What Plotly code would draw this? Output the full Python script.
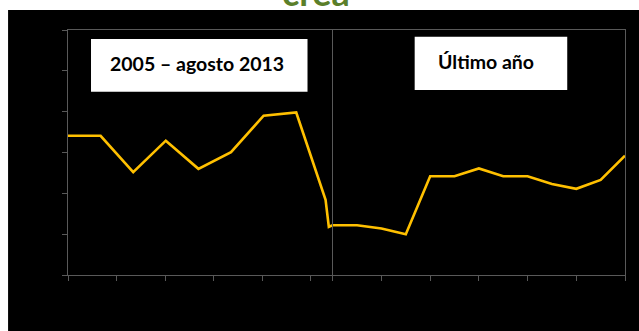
import plotly.graph_objects as go

# left panel: 2005 - agosto 2013
hist_x = [0, 1, 2, 3, 4, 5, 6, 7, 7.9, 8.0, 8.12]
hist_y = [3.41, 3.41, 2.52, 3.29, 2.60, 3.01, 3.90, 3.98, 1.84, 1.18, 1.22]

# right panel: ultimo año (13 meses)
year_x = [0, 1, 2, 3, 4, 5, 6, 7, 8, 9, 10, 11, 12]
year_y = [1.22, 1.22, 1.14, 1.00, 2.42, 2.42, 2.61, 2.42, 2.42, 2.23, 2.11, 2.33, 2.92]

label_left = "2005 – agosto 2013"
label_right = "Último año"

gold = "#FFC000"
grid = "#595959"
split = 0.4753

fig = go.Figure()
fig.add_trace(go.Scatter(x=hist_x, y=hist_y, mode="lines",
                         line=dict(color=gold, width=2.6), xaxis="x", yaxis="y",
                         hoverinfo="skip"))
fig.add_trace(go.Scatter(x=year_x, y=year_y, mode="lines",
                         line=dict(color=gold, width=2.6), xaxis="x2", yaxis="y2",
                         hoverinfo="skip"))

ax = dict(showline=True, linecolor=grid, linewidth=1.3, ticks="outside",
          ticklen=5, tickcolor=grid, tickwidth=1.3, showgrid=False,
          zeroline=False, showticklabels=False)

fig.update_layout(
    width=639, height=331,
    margin=dict(l=68, r=13.5, t=30, b=56),
    paper_bgcolor="white", plot_bgcolor="black",
    showlegend=False,
    xaxis=dict(ax, domain=[0, split], range=[0, 8.12], tick0=0, dtick=1.49,
               mirror=True, anchor="y"),
    xaxis2=dict(ax, domain=[split, 1], range=[0, 12], tick0=0, dtick=2,
                mirror=True, anchor="y2"),
    yaxis=dict(ax, range=[0, 6], dtick=1, anchor="x"),
    yaxis2=dict(ax, range=[0, 6], dtick=1, anchor="x2", mirror=True,
                ticks="", matches="y"),
    shapes=[
        dict(type="rect", xref="paper", yref="paper", x0=-0.1076, x1=1.03,
             y0=-0.235, y1=1.0816, fillcolor="black", line_width=0, layer="below"),
        dict(type="rect", xref="paper", yref="paper", x0=0.0413, x1=0.43,
             y0=0.748, y1=0.963, fillcolor="white", line_width=0),
        dict(type="rect", xref="paper", yref="paper", x0=0.6224, x1=0.8963,
             y0=0.755, y1=0.9727, fillcolor="white", line_width=0),
    ],
    annotations=[
        dict(text="<b>%s</b>" % label_left, xref="paper", yref="paper",
             x=0.2314, y=0.8653, xanchor="center", yanchor="middle",
             showarrow=False, font=dict(family="Lato", size=19.5, color="black")),
        dict(text="<b>%s</b>" % label_right, xref="paper", yref="paper",
             x=0.66, y=0.8706, xanchor="left", yanchor="middle",
             showarrow=False, font=dict(family="Lato", size=19.5, color="black")),
        dict(text="<b>crea</b>", xref="paper", yref="paper",
             x=0.445, y=1.056, xanchor="center", yanchor="bottom",
             showarrow=False, font=dict(family="Lato", size=36, color="#5b7f2a")),
    ],
)

# page body has a default 8px margin; drop it so the figure sits at 0,0
fig.write_html("out.html", config={"displayModeBar": False},
               post_script="document.body.style.margin='0px';")
